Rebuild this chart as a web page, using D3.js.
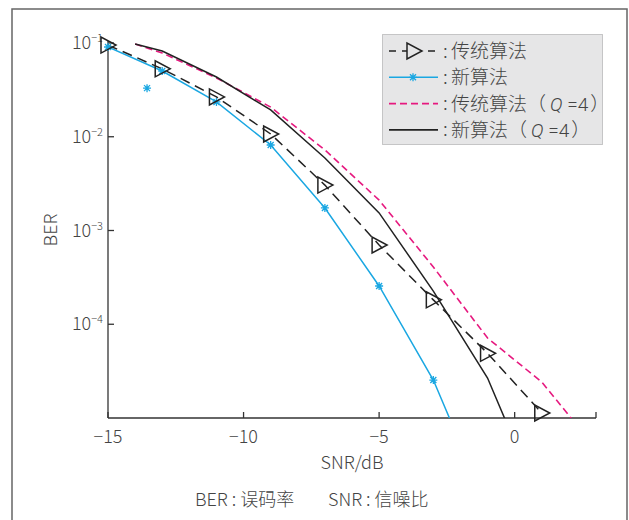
<!DOCTYPE html>
<html>
<head>
<meta charset="utf-8">
<script src="https://cdn.jsdelivr.net/npm/d3@7"></script>
<style>
  body { margin: 0; background: #fff; }
  svg { font-family: "Noto Sans CJK SC", "Noto Sans", sans-serif; }
  text { font-weight: 300; }
</style>
</head>
<body>
<svg id="chart" width="629" height="520"></svg>
<script>
// data
var snrOdd = [-15, -13, -11, -9, -7, -5, -3, -1, 1]
    berOld = [0.095, 0.053, 0.0266, 0.0107, 0.00305, 7.0e-4, 1.82e-4, 4.9e-5, 1.13e-5]
    berNew = [0.0906, 0.0503, 0.0235, 0.00817, 0.00174, 2.56e-4, 2.54e-5, 1.1e-6]
    strayNew = [{x: -13.56, y: 0.033}]
    snrQ = [-14, -13, -11, -9, -7, -5, -3, -1, 1, 3]
    berOldQ = [0.0975, 0.0782, 0.0424, 0.0207, 0.00723, 0.00211, 4.08e-4, 7.13e-5, 2.42e-5, 4.7e-6]
    berNewQ = [0.0975, 0.0822, 0.0434, 0.0193, 0.00593, 0.00154, 2.26e-4, 2.67e-5, 1.15e-6]
    xTicks = [-15, -10, -5, 0]
    yTicks = [-1, -2, -3, -4]

var svg = d3.select('#chart')
var x = d3.scaleLinear().domain([-15, 3]).range([108, 596])
var y = d3.scaleLog().domain([1e-5, 1e-1]).range([418, 43])

var blue = '#1aa7e2', pink = '#e6197f', dark = '#222', grey = '#444'

// outer frame
svg.append('path')
  .attr('d', 'M12,522 L12,9 L627,9 L627,522')
  .attr('fill', 'none').attr('stroke', '#666').attr('stroke-width', 1.5)

svg.append('defs').append('clipPath').attr('id', 'plot')
  .append('rect').attr('x', 108).attr('y', 20).attr('width', 500).attr('height', 398)

// axes
var ax = svg.append('g').attr('stroke', '#333').attr('stroke-width', 1.3)
ax.append('line').attr('x1', 108).attr('x2', 596).attr('y1', 418).attr('y2', 418)
ax.append('line').attr('x1', 108).attr('x2', 108).attr('y1', 41).attr('y2', 418)
ax.selectAll('.xt').data(xTicks.concat([3])).enter().append('line')
  .attr('x1', function(d){return x(d)}).attr('x2', function(d){return x(d)})
  .attr('y1', 418).attr('y2', 412)
ax.selectAll('.yt').data(yTicks).enter().append('line')
  .attr('x1', 108).attr('x2', 114)
  .attr('y1', function(d){return y(Math.pow(10, d))}).attr('y2', function(d){return y(Math.pow(10, d))})

svg.selectAll('.xl').data(xTicks).enter().append('text')
  .attr('x', function(d){return x(d)}).attr('y', 443)
  .attr('text-anchor', 'middle').attr('font-size', 18).attr('fill', grey)
  .text(function(d){return d < 0 ? '\u2212' + Math.abs(d) : d})

var yl = svg.selectAll('.yl').data(yTicks).enter().append('text')
  .attr('x', 103).attr('y', function(d){return y(Math.pow(10, d)) + 6})
  .attr('text-anchor', 'end').attr('font-size', 18).attr('fill', grey)
yl.append('tspan').text('10')
yl.append('tspan').attr('dy', -7).attr('font-size', 11).text(function(d){return '\u2212' + Math.abs(d)})

svg.append('text').attr('transform', 'translate(57,230) rotate(-90)')
  .attr('text-anchor', 'middle').attr('font-size', 18).attr('fill', grey).text('BER')
svg.append('text').attr('x', 352).attr('y', 469)
  .attr('text-anchor', 'middle').attr('font-size', 18).attr('fill', grey).text('SNR/dB')
svg.append('text').attr('x', 195).attr('y', 506)
  .attr('font-size', 18).attr('fill', grey).text('BER : 误码率')
svg.append('text').attr('x', 328).attr('y', 506)
  .attr('font-size', 18).attr('fill', grey).text('SNR : 信噪比')

// series
var line = d3.line().x(function(d){return x(d[0])}).y(function(d){return y(d[1])})
var plot = svg.append('g').attr('clip-path', 'url(#plot)')

function series(xs, ys){ return ys.map(function(v, i){return [xs[i], v]}) }

plot.append('path').datum(series(snrQ, berOldQ)).attr('d', line)
  .attr('fill', 'none').attr('stroke', pink).attr('stroke-width', 1.6).attr('stroke-dasharray', '7,4')
plot.append('path').datum(series(snrQ, berNewQ)).attr('d', line)
  .attr('fill', 'none').attr('stroke', dark).attr('stroke-width', 1.5)
plot.append('path').datum(series(snrOdd, berNew)).attr('d', line)
  .attr('fill', 'none').attr('stroke', blue).attr('stroke-width', 1.5)
plot.append('path').datum(series(snrOdd, berOld)).attr('d', line)
  .attr('fill', 'none').attr('stroke', dark).attr('stroke-width', 1.5).attr('stroke-dasharray', '10,6')

var tri = 'M-7,-8 L-7,8 L8,0 Z'
var star = 'M-4,0 L4,0 M0,-4 L0,4 M-3,-3 L3,3 M-3,3 L3,-3'

var newPts = series(snrOdd, berNew).filter(function(d){return d[1] >= 1e-5})
  .concat(strayNew.map(function(d){return [d.x, d.y]}))
svg.selectAll('.star').data(newPts).enter().append('path')
  .attr('d', star).attr('stroke', blue).attr('stroke-width', 1.3).attr('fill', 'none')
  .attr('transform', function(d){return 'translate(' + x(d[0]) + ',' + y(d[1]) + ')'})
svg.selectAll('.tri').data(series(snrOdd, berOld)).enter().append('path')
  .attr('d', tri).attr('stroke', dark).attr('stroke-width', 1.5).attr('fill', 'none')
  .attr('transform', function(d){return 'translate(' + x(d[0]) + ',' + y(d[1]) + ')'})

// legend
var legendItems = [
  {label: '传统算法', color: dark, dash: '7,6', mark: 'tri'},
  {label: '新算法', color: blue, dash: null, mark: 'star'},
  {label: '传统算法', color: pink, dash: '7,4', mark: null, q: true},
  {label: '新算法', color: dark, dash: null, mark: null, q: true}
]
var lg = svg.append('g')
lg.append('rect').attr('x', 382.5).attr('y', 34.5).attr('width', 220).attr('height', 110)
  .attr('fill', '#e6e6e7').attr('stroke', '#999').attr('stroke-dasharray', '1,1')
var row = lg.selectAll('.row').data(legendItems).enter().append('g')
  .attr('transform', function(d, i){return 'translate(0,' + (51 + i * 26.3) + ')'})
row.append('line').attr('x1', 389).attr('x2', 438)
  .attr('stroke', function(d){return d.color}).attr('stroke-width', 1.6)
  .attr('stroke-dasharray', function(d){return d.dash})
row.filter(function(d){return d.mark === 'tri'}).append('path')
  .attr('d', tri).attr('transform', 'translate(414,0)')
  .attr('fill', '#e6e6e7').attr('stroke', dark).attr('stroke-width', 1.5)
row.filter(function(d){return d.mark === 'star'}).append('path')
  .attr('d', star).attr('transform', 'translate(413,0)')
  .attr('stroke', blue).attr('stroke-width', 1.3)
row.append('text').attr('x', 443).attr('y', 6.5)
  .attr('font-size', 19).attr('fill', grey).text(':')
var lt = row.append('text').attr('x', 451).attr('y', 7)
  .attr('font-size', 19).attr('fill', grey).attr('xml:space', 'preserve')
lt.append('tspan').text(function(d){return d.label})
lt.filter(function(d){return d.q}).append('tspan').text('（')
lt.filter(function(d){return d.q}).append('tspan').attr('font-style', 'italic')
  .attr('font-family', 'Roboto, sans-serif').attr('dx', 4).text('Q')
lt.filter(function(d){return d.q}).append('tspan')
  .attr('font-family', 'Roboto, sans-serif').text(' =4')
lt.filter(function(d){return d.q}).append('tspan').attr('dx', 2).text('）')
</script>
</body>
</html>
